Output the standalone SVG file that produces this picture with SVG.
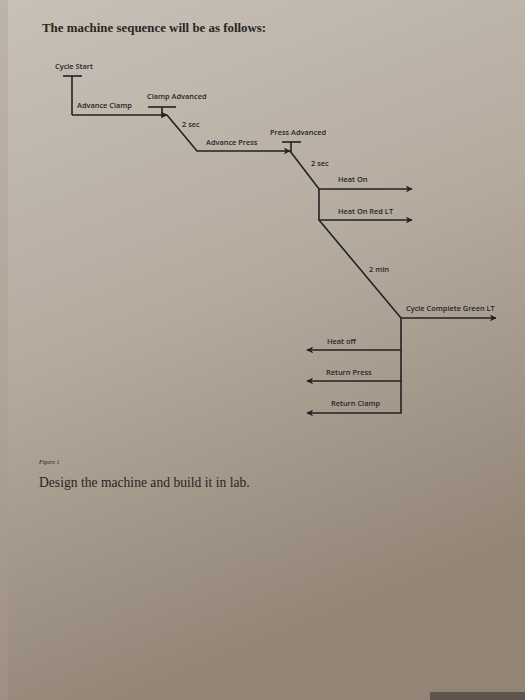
<svg xmlns="http://www.w3.org/2000/svg" width="525" height="700" viewBox="0 0 525 700">
<defs>
<linearGradient id="paper" x1="0" y1="0" x2="0.3" y2="1">
<stop offset="0" stop-color="#c8c1b8"/>
<stop offset="0.5" stop-color="#b5aa9e"/>
<stop offset="1" stop-color="#928576"/>
</linearGradient>
<marker id="arr" viewBox="0 0 10 10" refX="9" refY="5" markerWidth="7" markerHeight="7" markerUnits="userSpaceOnUse" orient="auto">
<path d="M0,0 L10,5 L0,10 L3,5 Z" fill="#222"/>
</marker>
<style>
.ln{stroke:#222;stroke-width:1.6;fill:none}
.lbl{font-family:"Open Sans","Liberation Sans",sans-serif;font-size:7.4px;font-weight:600;fill:#262626}
.serif{font-family:"Liberation Serif",serif;fill:#2a2622}
</style>
</defs>
<rect width="525" height="700" fill="url(#paper)"/>
<rect x="0" y="0" width="8" height="700" fill="#a99c8f" opacity="0.35"/>
<rect x="430" y="692" width="95" height="8" fill="#5e564e"/>

<text class="serif" x="42" y="32" font-size="12.9" font-weight="bold">The machine sequence will be as follows:</text>

<g id="connectors">
<line class="ln" x1="72" y1="76" x2="72" y2="115"/>
<line class="ln" x1="72" y1="115" x2="167" y2="115" marker-end="url(#arr)"/>
<polyline class="ln" points="167,115 197,151 290,151" marker-end="url(#arr)"/>
<polyline class="ln" points="290,151 319,189 412,189" marker-end="url(#arr)"/>
<polyline class="ln" points="319,189 319,220 412,220" marker-end="url(#arr)"/>
<polyline class="ln" points="319,220 401,318 496,318" marker-end="url(#arr)"/>
<polyline class="ln" points="401,318 401,350 307,350" marker-end="url(#arr)"/>
<polyline class="ln" points="401,350 401,381 307,381" marker-end="url(#arr)"/>
<polyline class="ln" points="401,381 401,413 307,413" marker-end="url(#arr)"/>
</g>

<g id="cycle-start">
<text class="lbl" x="55" y="69">Cycle Start</text>
<line class="ln" x1="63" y1="76" x2="82" y2="76"/>
</g>
<g id="advance-clamp"><text class="lbl" x="77" y="108">Advance Clamp</text></g>
<g id="clamp-advanced">
<text class="lbl" x="147" y="99">Clamp Advanced</text>
<line class="ln" x1="148" y1="107" x2="176" y2="107"/>
<line class="ln" x1="162" y1="107" x2="162" y2="117"/>
</g>
<g id="t-2sec-1"><text class="lbl" x="182" y="127">2 sec</text></g>
<g id="advance-press"><text class="lbl" x="206" y="145">Advance Press</text></g>
<g id="press-advanced">
<text class="lbl" x="270" y="135">Press Advanced</text>
<line class="ln" x1="282" y1="142" x2="301" y2="142"/>
<line class="ln" x1="291" y1="142" x2="291" y2="153"/>
</g>
<g id="t-2sec-2"><text class="lbl" x="311" y="166">2 sec</text></g>
<g id="heat-on"><text class="lbl" x="338" y="182">Heat On</text></g>
<g id="heat-on-red"><text class="lbl" x="338" y="214">Heat On Red LT</text></g>
<g id="t-2min"><text class="lbl" x="369" y="272">2 min</text></g>
<g id="cycle-complete"><text class="lbl" x="406" y="311">Cycle Complete Green LT</text></g>
<g id="heat-off"><text class="lbl" x="327" y="344">Heat off</text></g>
<g id="return-press"><text class="lbl" x="326" y="375">Return Press</text></g>
<g id="return-clamp"><text class="lbl" x="331" y="406">Return Clamp</text></g>

<text class="serif" x="39" y="464" font-size="6" font-style="italic" fill="#4a4a55">Figure 1</text>
<text class="serif" x="39" y="487" font-size="13.6">Design the machine and build it in lab.</text>
</svg>
